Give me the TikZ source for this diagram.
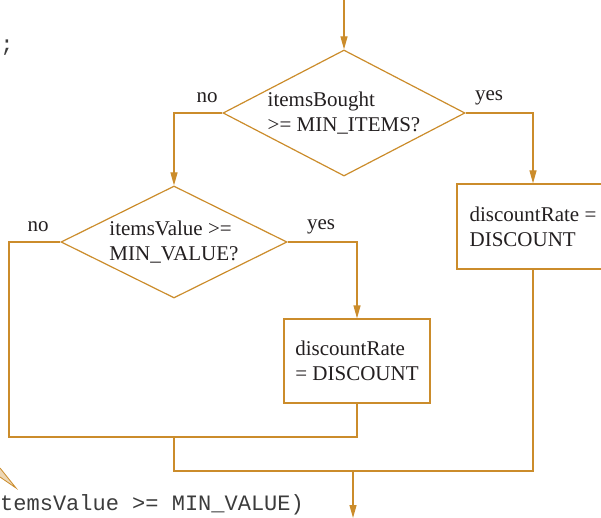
\documentclass[tikz,border=0pt]{standalone}
\usepackage{fontspec}
\setmainfont{Liberation Serif}
\setmonofont{Liberation Mono}
\usetikzlibrary{arrows.meta,positioning,shapes.geometric}
\definecolor{flowc}{HTML}{CB8C2B}
\definecolor{inkc}{HTML}{231F20}
\definecolor{codec}{HTML}{3C3C3C}

\tikzset{
  flow/.style={draw=flowc,line width=1.2pt},
  arr/.style={flow,-{Triangle[width=7pt,length=13pt]}},
  % negative sep so that the minimum sizes set the diamond
  decision/.style={diamond,flow,aspect=2,inner xsep=-40pt,inner ysep=-15pt,align=left,text=inkc},
  action/.style={rectangle,flow,inner sep=0pt,align=left,text=inkc},
  lbl/.style={text=inkc,inner sep=0pt},
  code/.style={text=codec,inner sep=0pt,font=\ttfamily\fontsize{22}{26}\selectfont}
}

\begin{document}
\begin{tikzpicture}[x=1pt,y=-1pt,font=\fontsize{21}{25}\selectfont]
  \useasboundingbox (0,0) rectangle (601,518);

  % the two tests
  \node[decision,minimum width=242pt,minimum height=126pt] (bought) at (344,113)
    {itemsBought\\>= MIN\_ITEMS?};
  \node[decision,minimum width=226pt,minimum height=112pt] (value) at (174,242)
    {itemsValue >=\\MIN\_VALUE?};

  % the two assignments
  \node[action,minimum width=152pt,minimum height=85pt] (rateA) at (533,226.5)
    {discountRate =\\DISCOUNT};
  \node[action,minimum width=146pt,minimum height=84pt] (rateB) at (357,361)
    {discountRate\\= DISCOUNT};

  % branch labels
  \node[lbl] (noA) at (207,98) {no};
  \node[lbl] (yesA) at (489,98) {yes};
  \node[lbl] (noB) at (38,227) {no};
  \node[lbl] (yesB) at (321,227) {yes};

  % join points
  \coordinate (start) at (344,0);
  \coordinate (joinL) at (9,437);
  \coordinate (joinR) at (357,437);
  \coordinate (merge) at (174,437);
  \coordinate (mergeR) at (533,471);
  \coordinate (out) at (353,471);
  \coordinate (stop) at (353,518);

  \draw[arr] (start) -- (bought.north);
  \draw[arr] (bought.west) -| (value.north);
  \draw[arr] (bought.east) -| (rateA.north);
  \draw[arr] (value.east) -| (rateB.north);
  \draw[flow] (rateB.south) -- (joinR) -- (joinL) |- (value.west);
  \draw[flow] (rateA.south) -- (mergeR) -| (merge);
  \draw[arr] (out) -- (stop);

  % code around the chart
  \node[code,anchor=center] (semi) at (7,48) {;};
  \node[code,anchor=base west] (cond) at (0,510) {temsValue >= MIN\_VALUE)};
  \draw[flowc,fill=flowc!35,line width=0.8pt] (0,468) -- (16,488) -- (0,477);
\end{tikzpicture}
\end{document}
